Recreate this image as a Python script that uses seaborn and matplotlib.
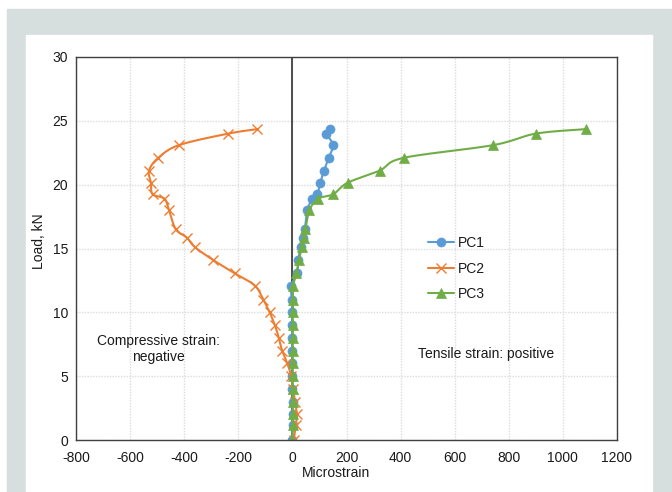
import numpy as np
import pandas as pd
import matplotlib
matplotlib.use("Agg")
import matplotlib.pyplot as plt
from matplotlib.lines import Line2D
from matplotlib.patches import Rectangle
import seaborn as sns

# ---- data ----
loads = [0, 1.2, 2.0, 3.0, 4.0, 5.0, 6.0, 7.0, 8.0, 9.0, 10.0, 11.0, 12.1,
         13.05, 14.1, 15.1, 15.85, 16.5, 18.0, 18.9, 19.25, 20.15, 21.1,
         22.1, 23.1, 24.0, 24.35]
pc1 = [0, 1, 1, 1, 0, 0, -1, -1, -1, -1, -1, -3, -4, 18, 21, 31, 39, 46,
       55, 74, 92, 103, 117, 134, 150, 126, 138]
pc2 = [5, 13, 16, 10, 2, -4, -19, -38, -50, -65, -84, -108, -139, -213,
       -293, -360, -390, -431, -456, -473, -517, -523, -530, -496, -419,
       -237, -130]
pc3 = [0, 1, 1, 1, 1, 1, 1, 1, 1, 1, 2, 2, 3, 15, 24, 35, 42, 48, 63, 95,
       151, 204, 322, 411, 743, 900, 1085]
series_names = ["PC1", "PC2", "PC3"]
series_values = [pc1, pc2, pc3]
x_ticks = [-800, -600, -400, -200, 0, 200, 400, 600, 800, 1000, 1200]
y_ticks = [0, 5, 10, 15, 20, 25, 30]

colors = {"PC1": "#5B9BD5", "PC2": "#ED7D31", "PC3": "#70AD47"}
markers = {"PC1": "o", "PC2": "x", "PC3": "^"}

W, H, DPI = 672, 492, 100
FS = 10
TXT = "#1a1a1a"
sns.set_theme(style="white")
plt.rcParams["font.family"] = ["Liberation Sans", "DejaVu Sans"]

fig = plt.figure(figsize=(W / DPI, H / DPI), dpi=DPI, facecolor="white")
# background bands
fig.patches.append(Rectangle((7 / W, 0), (W - 7) / W, (H - 9) / H,
                             transform=fig.transFigure, color="#D6DFDE", zorder=-10))
fig.patches.append(Rectangle((26 / W, 0), (652 - 26) / W, (H - 35) / H,
                             transform=fig.transFigure, color="white", zorder=-9))

L, R, T, B = 76, 617, 57, 440
ax = fig.add_axes([L / W, 1 - B / H, (R - L) / W, (B - T) / H])
ax.set_facecolor("none")

xmin, xmax, ymin, ymax = -800, 1200, 0, 30
sx = (R - L) / (xmax - xmin)
sy = (B - T) / (ymax - ymin)


def smooth(xs, ys, n=12):
    # Catmull-Rom curve through points in pixel space (for drawing the line)
    px = np.asarray(xs, float) * sx
    py = np.asarray(ys, float) * sy
    P = np.column_stack([px, py])
    P = np.vstack([P[0], P, P[-1]])
    out = []
    for i in range(1, len(P) - 2):
        p0, p1, p2, p3 = P[i - 1], P[i], P[i + 1], P[i + 2]
        t = np.linspace(0, 1, n, endpoint=False)[:, None]
        c = 0.5 * ((2 * p1) + (-p0 + p2) * t + (2 * p0 - 5 * p1 + 4 * p2 - p3) * t ** 2
                   + (-p0 + 3 * p1 - 3 * p2 + p3) * t ** 3)
        out.append(c)
    out.append(P[-2][None, :])
    C = np.vstack(out)
    return C[:, 0] / sx, C[:, 1] / sy


MS = 6.5
for name, vals in zip(series_names, series_values):
    cx, cy = smooth(vals, loads)
    sns.lineplot(x=cx, y=cy, sort=False, estimator=None, ax=ax,
                 color=colors[name], linewidth=1.5, legend=False)
    df = pd.DataFrame({"strain": vals, "load": loads})
    sns.lineplot(data=df, x="strain", y="load", sort=False, estimator=None,
                 ax=ax, color=colors[name], linestyle="", marker=markers[name],
                 markersize=MS, markeredgewidth=1.0 if name == "PC2" else 0.5,
                 markeredgecolor=colors[name], legend=False)

ax.axvline(0, color="#404040", linewidth=1.3, zorder=1.5)

ax.set_xlim(xmin, xmax)
ax.set_ylim(ymin, ymax)
ax.set_xticks(x_ticks)
ax.set_yticks(y_ticks)
ax.set_xticklabels([str(v) for v in x_ticks])
ax.set_yticklabels([str(v) for v in y_ticks])
ax.tick_params(axis="both", length=0, labelsize=FS, colors=TXT)
ax.tick_params(axis="x", pad=8)
ax.tick_params(axis="y", pad=5.5)
ax.grid(True, color="#DCDCDC", linestyle=(0, (1, 1)), linewidth=1.0)
for s in ax.spines.values():
    s.set_visible(True)
    s.set_color("#404040")
    s.set_linewidth(1.0)

ax.set_xlabel("Microstrain", fontsize=FS, color=TXT)
ax.set_ylabel("Load, kN", fontsize=FS, color=TXT)
ax.xaxis.set_label_coords((336 - L) / (R - L), -(466 - B) / (B - T))
ax.yaxis.set_label_coords(-(L - 46) / (R - L), (B - 241) / (B - T))

fig.text(158 / W, 1 - 349 / H, "Compressive strain:\nnegative", ha="center",
         va="center", fontsize=FS, color=TXT, linespacing=1.2)
fig.text(486 / W, 1 - 354 / H, "Tensile strain: positive", ha="center",
         va="center", fontsize=FS, color=TXT)

handles = [Line2D([0], [0], color=colors[n], marker=markers[n], markersize=MS,
                  linewidth=1.5, markeredgecolor=colors[n],
                  markeredgewidth=1.0 if n == "PC2" else 0.5) for n in series_names]
fig.legend(handles, series_names, loc="center left",
           bbox_to_anchor=(428 / W, 1 - 268.5 / H), frameon=False,
           fontsize=FS, handlelength=1.9, handletextpad=0.25,
           labelspacing=0.85, borderpad=0, borderaxespad=0,
           labelcolor=TXT)

fig.savefig("out.png", dpi=DPI, facecolor="white")
